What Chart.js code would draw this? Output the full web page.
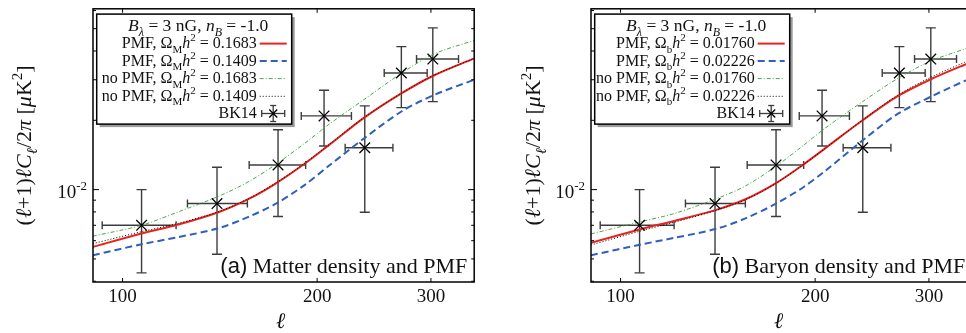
<!DOCTYPE html>
<html>
<head>
<meta charset="utf-8">
<script src="https://cdn.jsdelivr.net/npm/chart.js@4.4.1/dist/chart.umd.min.js"></script>
<style>
  html, body { margin: 0; padding: 0; background: #fff; }
  body { width: 966px; height: 333px; overflow: hidden; position: relative; }
  .panel { position: absolute; top: 0; }
  .panel canvas { display: block; }
  #wrapA { left: 0; }
  #wrapB { left: 483px; }
</style>
</head>
<body>
<div class="panel" id="wrapA"><canvas id="chartA" width="483" height="333"></canvas></div>
<div class="panel" id="wrapB"><canvas id="chartB" width="498" height="333"></canvas></div>
<script>
// ---- data ----
// panel (a): matter density
const ELL_A = [90, 107, 122, 141, 157, 173, 191, 209, 236, 270, 303, 350];
const PMF_1683 = [0.00564, 0.00645, 0.00705, 0.00799, 0.00913, 0.01068, 0.01292, 0.01568, 0.02045, 0.02617, 0.03131, 0.03716];
const PMF_1409 = [0.00519, 0.00579, 0.00622, 0.00681, 0.00764, 0.00871, 0.01044, 0.01275, 0.01663, 0.02184, 0.02573, 0.03002];
const NOPMF_1683 = [0.00628, 0.00700, 0.00801, 0.00937, 0.01086, 0.01292, 0.01583, 0.01928, 0.02453, 0.03200, 0.03879, 0.04449];
const NOPMF_1409 = [0.00583, 0.00657, 0.00714, 0.00803, 0.00917, 0.01073, 0.01298, 0.01576, 0.02051, 0.02622, 0.03137, 0.03716];

// panel (b): baryon density
const ELL_B = [90, 108, 121, 141, 156, 174, 192, 207, 236, 268, 302, 340, 350];
const PMF_01760 = [0.00588, 0.00676, 0.00731, 0.00819, 0.00908, 0.01068, 0.01288, 0.01507, 0.01986, 0.02540, 0.03016, 0.03479, 0.03583];
const PMF_02226 = [0.00519, 0.00579, 0.00617, 0.00677, 0.00750, 0.00869, 0.01027, 0.01202, 0.01623, 0.02127, 0.02532, 0.02957, 0.03047];
const NOPMF_01760 = [0.00642, 0.00728, 0.00787, 0.00915, 0.01037, 0.01263, 0.01560, 0.01844, 0.02394, 0.03031, 0.03618, 0.04072, 0.04194];
const NOPMF_02226 = [0.00575, 0.00664, 0.00721, 0.00815, 0.00904, 0.01065, 0.01288, 0.01507, 0.01991, 0.02565, 0.03076, 0.03565, 0.03673];

// BK14 band powers
const BK_ELL = [107, 140, 174, 205, 237, 270, 302];
const BK_ELL_LO = [93, 126, 157, 189, 221, 254, 285];
const BK_ELL_HI = [121, 156, 192, 226, 262, 296, 331];
const BK_VAL = [0.0070, 0.0087, 0.0128, 0.0209, 0.0152, 0.0321, 0.0369];
const BK_LO = [0.00435, 0.00524, 0.00764, 0.01548, 0.00797, 0.0227, 0.0241];
const BK_HI = [0.0100, 0.0125, 0.0182, 0.0270, 0.0231, 0.0418, 0.0504];

// axes
const X_TICKS = [100, 200, 300];
const Y_MAJOR = [0.01];
const Y_MINOR = [0.004, 0.005, 0.006, 0.007, 0.008, 0.009, 0.02, 0.03, 0.04, 0.05, 0.06];

const OMEGA_A = ['0.1683', '0.1409'];
const OMEGA_B = ['0.01760', '0.02226'];

const RED = '#e8241f';
const BLUE = '#2f60bd';
const GREEN = '#4ea64a';
const SERIF = '"Liberation Serif", "Times New Roman", serif';
const SANS = '"Liberation Sans", Arial, sans-serif';

// ---- rich text helpers (sub/superscripts) ----
function fontFor(kind, size) {
    const s2 = Math.round(size * 0.7);
    switch (kind) {
        case 'i': return 'italic ' + size + 'px ' + SERIF;
        case 'sb': return s2 + 'px ' + SERIF;
        case 'si': return 'italic ' + s2 + 'px ' + SERIF;
        case 'sp': return s2 + 'px ' + SERIF;
        case 'sans': return size + 'px ' + SANS;
        default: return size + 'px ' + SERIF;
    }
}
function shiftFor(kind, size) {
    if (kind === 'sb' || kind === 'si') return size * 0.28;
    if (kind === 'sp') return -size * 0.42;
    return 0;
}
function richWidth(ctx, segs, size) {
    let w = 0;
    segs.forEach(([t, k]) => { ctx.font = fontFor(k, size); w += ctx.measureText(t).width; });
    return w;
}
function drawRich(ctx, segs, x, y, size, align) {
    const w = richWidth(ctx, segs, size);
    let cx = align === 'right' ? x - w : align === 'center' ? x - w / 2 : x;
    ctx.textAlign = 'left';
    ctx.textBaseline = 'alphabetic';
    segs.forEach(([t, k]) => {
        ctx.font = fontFor(k, size);
        ctx.fillText(t, cx, y + shiftFor(k, size));
        cx += ctx.measureText(t).width;
    });
}

function line(ctx, x1, y1, x2, y2) {
    ctx.beginPath(); ctx.moveTo(x1, y1); ctx.lineTo(x2, y2); ctx.stroke();
}

// error bar cross with caps
function errorBar(ctx, cx, cy, xl, xr, yt, yb, capV, capH) {
    line(ctx, xl, cy, xr, cy);
    line(ctx, xl, cy - capV, xl, cy + capV);
    line(ctx, xr, cy - capV, xr, cy + capV);
    line(ctx, cx, yt, cx, yb);
    line(ctx, cx - capH, yt, cx + capH, yt);
    line(ctx, cx - capH, yb, cx + capH, yb);
}

function sampleStyle(ctx, kind) {
    ctx.setLineDash([]);
    if (kind === 0) { ctx.strokeStyle = RED; ctx.lineWidth = 2; }
    if (kind === 1) { ctx.strokeStyle = BLUE; ctx.lineWidth = 2; ctx.setLineDash([7, 4]); }
    if (kind === 2) { ctx.strokeStyle = GREEN; ctx.lineWidth = 1; ctx.setLineDash([4, 2, 1, 2]); }
    if (kind === 3) { ctx.strokeStyle = '#000'; ctx.lineWidth = 1; ctx.setLineDash([1, 2]); }
}

const panelPlugin = {
    id: 'panel',
    beforeDatasetsDraw(chart) {
        const ctx = chart.ctx, xs = chart.scales.x, ys = chart.scales.y, ca = chart.chartArea;
        ctx.save();
        ctx.beginPath();
        ctx.rect(ca.left, ca.top, ca.width, ca.height);
        ctx.clip();
        ctx.strokeStyle = '#3c3c3c';
        ctx.lineWidth = 1.4;
        BK_ELL.forEach((l, i) => {
            errorBar(ctx,
                xs.getPixelForValue(l), ys.getPixelForValue(BK_VAL[i]),
                xs.getPixelForValue(BK_ELL_LO[i]), xs.getPixelForValue(BK_ELL_HI[i]),
                ys.getPixelForValue(BK_HI[i]), ys.getPixelForValue(BK_LO[i]), 4, 5);
        });
        ctx.restore();
    },
    afterDatasetsDraw(chart, args, opts) {
        const ctx = chart.ctx, ca = chart.chartArea;
        ctx.save();
        // legend box
        const bx = ca.left + 3.7, by = ca.top + 5.3, bw = 195, bh = 110;
        ctx.fillStyle = '#9a9a9a';
        ctx.fillRect(bx + 3, by + 3, bw, bh);
        ctx.fillStyle = '#fff';
        ctx.fillRect(bx, by, bw, bh);
        ctx.strokeStyle = '#000';
        ctx.lineWidth = 1.5;
        ctx.strokeRect(bx, by, bw, bh);

        ctx.fillStyle = '#111';
        drawRich(ctx, [['B', 'i'], ['λ', 'si'], [' = 3 nG, ', 'r'], ['n', 'i'], ['B', 'si'], [' = -1.0', 'r']],
            bx + bw / 2 + 4, by + 16.7, 17.5, 'center');

        const rows = [by + 34, by + 51.4, by + 69, by + 86.7, by + 104];
        const tx = bx + bw - 35;
        const labels = [
            ['PMF, ', opts.omega[0]], ['PMF, ', opts.omega[1]],
            ['no PMF, ', opts.omega[0]], ['no PMF, ', opts.omega[1]]
        ];
        labels.forEach(([pre, val], i) => {
            ctx.fillStyle = '#111';
            drawRich(ctx, [[pre + 'Ω', 'r'], [opts.sub, 'sb'], ['h', 'i'], ['2', 'sp'], [' = ' + val, 'r']],
                tx, rows[i], 16, 'right');
            sampleStyle(ctx, i);
            line(ctx, bx + bw - 32, rows[i] - 4.5, bx + bw - 5, rows[i] - 4.5);
        });
        ctx.setLineDash([]);
        ctx.fillStyle = '#111';
        drawRich(ctx, [['BK14', 'r']], tx, rows[4], 16, 'right');
        // BK14 symbol
        const sx = bx + bw - 18.5, sy = rows[4] - 4.6;
        ctx.strokeStyle = '#3c3c3c';
        ctx.lineWidth = 1.3;
        errorBar(ctx, sx, sy, sx - 11.5, sx + 11.5, sy - 8, sy + 8, 3.5, 3);
        ctx.strokeStyle = '#000';
        line(ctx, sx - 4, sy - 4, sx + 4, sy + 4);
        line(ctx, sx - 4, sy + 4, sx + 4, sy - 4);

        // panel annotation
        ctx.fillStyle = '#111';
        drawRich(ctx, [[opts.tag, 'sans'], [' ' + opts.caption, 'r']], ca.right - 7, ca.bottom - 8.7, 22, 'right');
        ctx.restore();
    },
    afterDraw(chart, args, opts) {
        const ctx = chart.ctx, xs = chart.scales.x, ys = chart.scales.y, ca = chart.chartArea;
        ctx.save();
        ctx.strokeStyle = '#000';
        ctx.lineWidth = 1.5;
        ctx.setLineDash([]);
        ctx.strokeRect(ca.left, ca.top, ca.width, ca.height);

        // inside ticks
        ctx.lineWidth = 1;
        Y_MINOR.concat(Y_MAJOR).forEach(v => {
            const y = ys.getPixelForValue(v);
            if (y < ca.top || y > ca.bottom) return;
            const len = Y_MAJOR.includes(v) ? 6 : 3;
            line(ctx, ca.left, y, ca.left + len, y);
            line(ctx, ca.right, y, ca.right - len, y);
        });
        X_TICKS.forEach(v => {
            const x = xs.getPixelForValue(v);
            line(ctx, x, ca.bottom, x, ca.bottom - 4);
            line(ctx, x, ca.top, x, ca.top + 4);
        });

        // tick labels
        ctx.fillStyle = '#111';
        X_TICKS.forEach(v => {
            drawRich(ctx, [[String(v), 'r']], xs.getPixelForValue(v), ca.bottom + 19.7, 19, 'center');
        });
        Y_MAJOR.forEach(v => {
            const y = ys.getPixelForValue(v);
            const exp = Math.round(Math.log10(v));
            drawRich(ctx, [['10', 'r'], [String(exp), 'sp']], ca.left - 6, y + 8.3, 19, 'right');
        });

        // axis titles
        drawRich(ctx, [['ℓ', 'i']], (ca.left + ca.right) / 2 - 3, 328, 22, 'center');
        ctx.translate(opts.yTitleX, (ca.top + ca.bottom) / 2);
        ctx.rotate(-Math.PI / 2);
        drawRich(ctx, [['(', 'r'], ['ℓ', 'i'], ['+1)', 'r'], ['ℓ', 'i'], ['C', 'i'], ['ℓ', 'si'],
            ['/2', 'r'], ['π', 'i'], [' [', 'r'], ['μ', 'i'], ['K', 'r'], ['2', 'sp'], [']', 'r']],
            0, 0, 22, 'center');
        ctx.restore();
    }
};

function pts(xsArr, ysArr) {
    return xsArr.map((x, i) => ({ x: x, y: ysArr[i] }));
}

function curve(label, data, color, width, dash, order) {
    return {
        label: label, data: data, borderColor: color, borderWidth: width,
        borderDash: dash, pointRadius: 0, fill: false,
        tension: 0.3, order: order
    };
}

function makeChart(id, padLeft, ell, solid, dashed, dashDot, dotted, panel) {
    return new Chart(document.getElementById(id), {
        type: 'line',
        data: {
            datasets: [
                curve('PMF 1', pts(ell, solid), RED, 2, [], 2),
                curve('PMF 2', pts(ell, dashed), BLUE, 2, [7, 4], 3),
                curve('no PMF 1', pts(ell, dashDot), GREEN, 1, [4, 2, 1, 2], 4),
                curve('no PMF 2', pts(ell, dotted), '#000', 1, [1, 2], 1),
                {
                    label: 'BK14', data: pts(BK_ELL, BK_VAL), showLine: false,
                    pointStyle: 'crossRot', pointRadius: 7.5, pointBorderWidth: 1.3,
                    pointBorderColor: '#000', pointBackgroundColor: '#000',
                    borderColor: '#000', order: 0
                }
            ]
        },
        options: {
            responsive: false,
            devicePixelRatio: 1,
            animation: false,
            layout: { padding: { left: padLeft, right: 8, top: 4, bottom: 51 } },
            scales: {
                x: { type: 'logarithmic', min: 90, max: 350, display: false },
                y: { type: 'logarithmic', min: 0.00397, max: 0.061, display: false }
            },
            plugins: {
                legend: { display: false },
                tooltip: { enabled: false },
                panel: panel
            }
        },
        plugins: [panelPlugin]
    });
}

makeChart('chartA', 93, ELL_A, PMF_1683, PMF_1409, NOPMF_1683, NOPMF_1409, {
    omega: OMEGA_A, sub: 'M', tag: '(a)', caption: 'Matter density and PMF', yTitleX: 31
});
makeChart('chartB', 108, ELL_B, PMF_01760, PMF_02226, NOPMF_01760, NOPMF_02226, {
    omega: OMEGA_B, sub: 'b', tag: '(b)', caption: 'Baryon density and PMF', yTitleX: 57
});
</script>
</body>
</html>
